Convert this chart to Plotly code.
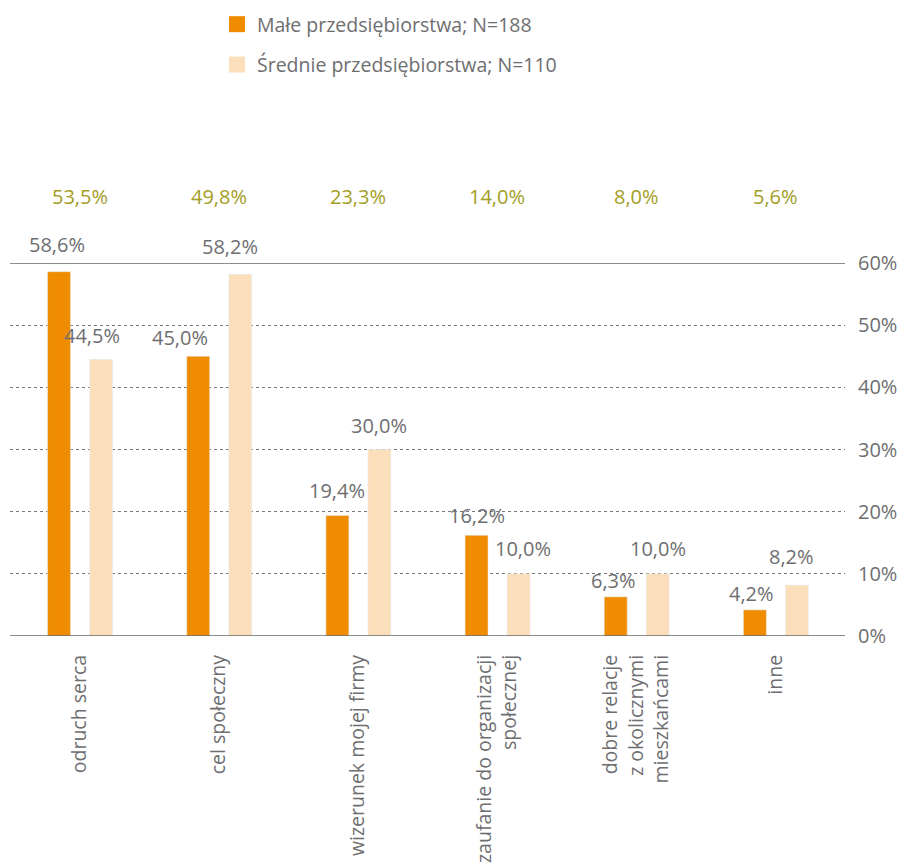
import plotly.graph_objects as go

categories = ["odruch serca", "cel społeczny", "wizerunek mojej firmy",
              "zaufanie do organizacji<br>społecznej",
              "dobre relacje<br>z okolicznymi<br>mieszkańcami", "inne"]
male = [58.6, 45.0, 19.4, 16.2, 6.3, 4.2]
srednie = [44.5, 58.2, 30.0, 10.0, 10.0, 8.2]
ogolem = [53.5, 49.8, 23.3, 14.0, 8.0, 5.6]
series_names = ["Małe przedsiębiorstwa; N=188", "Średnie przedsiębiorstwa; N=110"]
y_ticks = [0, 10, 20, 30, 40, 50, 60]
y_ticktext = [f"{v}%" for v in y_ticks]

ORANGE = "#F08C00"
LIGHT = "#FADFBA"
OLIVE = "#A29D1F"
GRAY = "#6E6E70"
FONT = "Open Sans"
NUM = 20
TXT = 19.5

idx = list(range(len(categories)))
fmt = lambda v: f"{v:.1f}".replace(".", ",") + "%"

BW = 0.165
OFF_A = -0.23
OFF_B = 0.072

fig = go.Figure()
fig.add_trace(go.Bar(x=idx, y=male, width=BW, offset=OFF_A, marker_color=ORANGE,
                     showlegend=False, hoverinfo="skip"))
fig.add_trace(go.Bar(x=idx, y=srednie, width=BW, offset=OFF_B, marker_color=LIGHT,
                     showlegend=False, hoverinfo="skip"))
# legend entries
for name, col in zip(series_names, [ORANGE, LIGHT]):
    fig.add_trace(go.Scatter(x=[None], y=[None], mode="markers", name=name, legendgroup=name,
                             marker=dict(symbol="square", size=16, color=col)))

annotations = []
# label shift tweaks (pixels) for series A and B
dxA = [-2, -18, 0, 0, -2, -3]
dxB = [-9, -10, 0, 4, 0, -5]
dyA = [27, 19, 25, 20, 16, 16]
dyB = [24, 28, 24, 25, 25, 29]
for i in idx:
    annotations.append(dict(x=i + OFF_A + BW / 2, y=male[i], xref="x", yref="y", text=fmt(male[i]),
                            showarrow=False, xshift=dxA[i], yshift=dyA[i], yanchor="middle",
                            font=dict(size=NUM, color=GRAY, family=FONT)))
    annotations.append(dict(x=i + OFF_B + BW / 2, y=srednie[i], xref="x", yref="y", text=fmt(srednie[i]),
                            showarrow=False, xshift=dxB[i], yshift=dyB[i], yanchor="middle",
                            font=dict(size=NUM, color=GRAY, family=FONT)))
    annotations.append(dict(x=i, y=1.177, xref="x", yref="paper", text=fmt(ogolem[i]),
                            showarrow=False, yanchor="middle",
                            font=dict(size=NUM, color=OLIVE, family=FONT)))

shapes = []
for yv in [0, 60]:
    shapes.append(dict(type="line", xref="paper", yref="y", x0=0, x1=1, y0=yv, y1=yv,
                       line=dict(color="#666666", width=1.5), layer="above"))

fig.update_layout(
    width=911, height=868,
    margin=dict(l=10, r=66, t=263, b=232, autoexpand=False),
    plot_bgcolor="white", paper_bgcolor="white",
    font=dict(family=FONT, size=TXT, color=GRAY),
    annotations=annotations, shapes=shapes,
    legend=dict(x=(217 - 10) / 835, xref="paper", y=1 + (263 - 5) / 373, yref="paper",
                xanchor="left", yanchor="top", font=dict(size=TXT, color=GRAY, family=FONT),
                tracegroupgap=12, traceorder="grouped", bgcolor="rgba(0,0,0,0)"),
    xaxis=dict(range=[-0.5, 5.5], tickvals=idx, ticktext=categories, tickangle=-90,
               showgrid=False, zeroline=False, showline=False, ticks="",
               tickfont=dict(size=TXT, color=GRAY, family=FONT), ticklabelstandoff=14),
    yaxis=dict(range=[0, 60], side="right", tickvals=y_ticks, ticktext=y_ticktext,
               showgrid=True, gridcolor="#777777", griddash="dot", gridwidth=1,
               zeroline=False, showline=False, ticks="",
               tickfont=dict(size=NUM, color=GRAY, family=FONT), ticklabelstandoff=12),
)

fig.write_html("out.html")
